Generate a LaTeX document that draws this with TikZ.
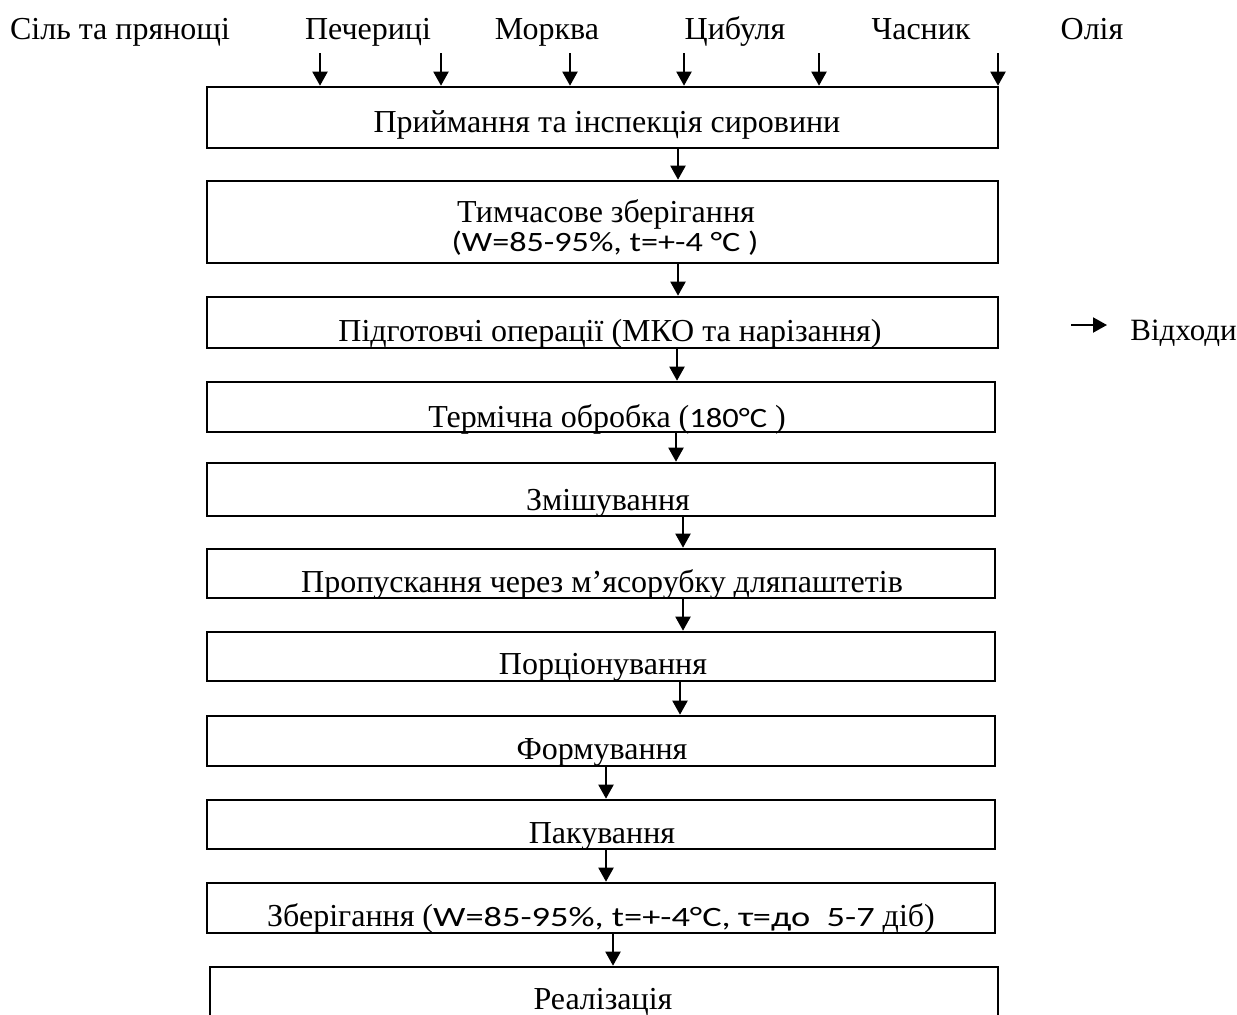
\documentclass[tikz,border=0pt]{standalone}
\usepackage{fontspec}
\usepackage{graphicx}
\setmainfont{Liberation Serif}
\newfontfamily\sansc{Carlito}
\usetikzlibrary{arrows.meta}
\tikzset{
  box/.style={draw, line width=1.3pt, inner sep=0pt, minimum width=395pt},
  txt/.style={inner sep=0pt, anchor=base, font=\fontsize{16}{18}\selectfont},
  arr/.style={line width=1pt, -{Triangle[width=7.5pt,length=7pt]}},
}
\begin{document}
\begin{tikzpicture}[x=0.5pt,y=-0.5pt]
\useasboundingbox (0,0) rectangle (1237,1014);
% top inputs
\node[txt] (l1) at (120,39) {Сіль та прянощі};
\node[txt] (l2) at (368,39) {Печериці};
\node[txt] (l3) at (547,39) {Морква};
\node[txt] (l4) at (735,39) {Цибуля};
\node[txt] (l5) at (921,39) {Часник};
\node[txt] (l6) at (1092,39) {Олія};
% boxes
\node[box, minimum width=395.5pt, minimum height=30.5pt] (b1) at (602.5,117.5) {};
\node[box, minimum width=395.5pt, minimum height=41pt] (b2) at (602.5,222) {};
\node[box, minimum width=395.5pt, minimum height=25.5pt] (b3) at (602.5,322.5) {};
\node[box, minimum width=394pt, minimum height=25pt] (b4) at (601,407) {};
\node[box, minimum width=394pt, minimum height=26.5pt] (b5) at (601,489.5) {};
\node[box, minimum width=394pt, minimum height=24.5pt] (b6) at (601,573.5) {};
\node[box, minimum width=394pt, minimum height=24.5pt] (b7) at (601,656.5) {};
\node[box, minimum width=394pt, minimum height=25pt] (b8) at (601,741) {};
\node[box, minimum width=394pt, minimum height=24.5pt] (b9) at (601,824.5) {};
\node[box, minimum width=394pt, minimum height=25pt] (b10) at (601,908) {};
\node[box, minimum width=394pt, minimum height=36.5pt] (b11) at (604,1003.5) {};
% texts
\node[txt] (t1) at (607,132) {Приймання та інспекція сировини};
\node[txt] (t2a) at (606,222) {Тимчасове зберігання};
\node[txt] (t2b) at (605,251) {{\fontsize{14}{15}\sansc\scalebox{1.22}[1]{(W=85-95\%, t=+-4 °C )}}};
\node[txt] (t3) at (610,341) {Підготовчі операції (МКО та нарізання)};
\node[txt] (t4) at (607,427) {Термічна обробка ({\fontsize{14}{15}\sansc\scalebox{1.16}[1]{180°C}} )};
\node[txt] (t5) at (608,510) {Змішування};
\node[txt] (t6) at (602,592) {Пропускання через м’ясорубку дляпаштетів};
\node[txt] (t7) at (603,674) {Порціонування};
\node[txt] (t8) at (602,759) {Формування};
\node[txt] (t9) at (602,843) {Пакування};
\node[txt] (t10) at (601,926) {Зберігання ({\fontsize{14}{15}\sansc\scalebox{1.3}[1]{W=85-95\%, t=+-4°C, τ=до\ \ 5-7}} діб)};
\node[txt] (t11) at (603,1009) {Реалізація};
% waste
\node[txt, anchor=base west, font=\fontsize{15.5}{18}\selectfont] (w) at (1130,340) {Відходи};
\coordinate (w0) at (1071,325);
\draw[arr] (w0) -- (1107,325);
% top arrows
\foreach \i/\x in {1/320,2/441,3/570,4/684,5/819,6/998}{
  \coordinate (s\i) at (\x,53);
  \draw[arr] (s\i) -- (s\i |- b1.north);
}
% flow arrows
\foreach \a/\b/\x in {b1/b2/678,b2/b3/678,b3/b4/677,b4/b5/676,b5/b6/683,b6/b7/683,b7/b8/680,b8/b9/606,b9/b10/606,b10/b11/613}{
  \coordinate (c) at (\x,0);
  \draw[arr] (\a.south -| c) -- (\b.north -| c);
}
\end{tikzpicture}
\end{document}
